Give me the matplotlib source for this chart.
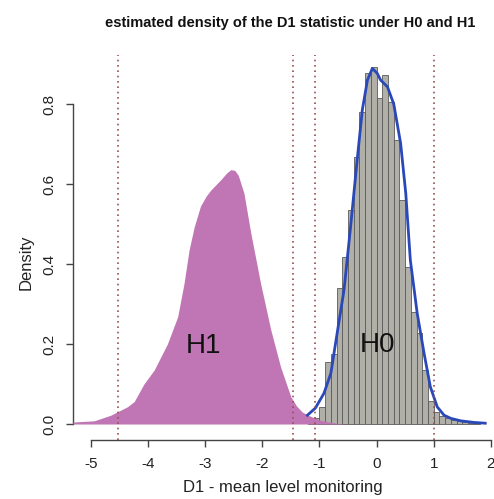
import matplotlib
matplotlib.use("Agg")
import matplotlib.pyplot as plt
import numpy as np

plt.rcParams['font.family'] = ['Liberation Sans', 'DejaVu Sans']
plt.rcParams['axes.unicode_minus'] = False

# estimated density under H1 (filled curve)
h1_x = [-5.31, -4.94, -4.65, -4.36, -4.24, -4.07, -3.89, -3.66, -3.48, -3.37,
        -3.28, -3.19, -3.08, -2.98, -2.90, -2.73, -2.62, -2.55, -2.48, -2.42,
        -2.32, -2.20, -2.03, -1.85, -1.68, -1.50, -1.40, -1.30, -1.20, -1.00,
        -0.80, -0.57]
h1_d = [0.005, 0.008, 0.022, 0.043, 0.056, 0.100, 0.135, 0.200, 0.268, 0.350,
        0.435, 0.493, 0.545, 0.570, 0.585, 0.610, 0.628, 0.636, 0.634, 0.622,
        0.577, 0.477, 0.352, 0.235, 0.143, 0.068, 0.045, 0.030, 0.022, 0.010,
        0.004, 0.0]

# histogram of D1 under H0, bins of width 0.1 starting at -1.2
h0_start = -1.2
h0_width = 0.1
h0_hist = [0.005, 0.014, 0.043, 0.155, 0.175, 0.339, 0.418, 0.535, 0.668, 0.781,
           0.877, 0.893, 0.816, 0.873, 0.806, 0.710, 0.560, 0.393, 0.281, 0.227,
           0.135, 0.058, 0.031, 0.020, 0.014, 0.010, 0.007, 0.005, 0.003, 0.002]

# kernel density estimate under H0
h0_kde_x = [-1.21, -1.07, -0.92, -0.80, -0.69, -0.57, -0.455, -0.34, -0.25, -0.16,
            -0.075, 0.01, 0.07, 0.19, 0.30, 0.42, 0.51, 0.59, 0.71, 0.83,
            0.94, 1.06, 1.18, 1.30, 1.47, 1.70, 1.90]
h0_kde_d = [0.022, 0.040, 0.077, 0.127, 0.227, 0.335, 0.493, 0.660, 0.785, 0.860,
            0.889, 0.877, 0.860, 0.843, 0.800, 0.702, 0.577, 0.410, 0.277, 0.177,
            0.093, 0.043, 0.022, 0.014, 0.008, 0.004, 0.002]

# critical values
crit = [-4.52, -1.47, -1.07, 1.01]

xticks = [-5, -4, -3, -2, -1, 0, 1, 2]
yticks = [0.0, 0.2, 0.4, 0.6, 0.8]

fig = plt.figure(figsize=(4.94, 4.99), dpi=100)
ax = fig.add_axes([0.1478, 0.1182, 0.868, 0.7715])

edges = h0_start + h0_width * np.arange(len(h0_hist))
ax.bar(edges, h0_hist, width=h0_width, align='edge', color='#b0b0a8',
       edgecolor='#5a5a5a', linewidth=0.6, zorder=2)
ax.fill_between(h1_x, h1_d, 0, color='#c075b4', linewidth=0, zorder=3)
ax.plot(h0_kde_x, h0_kde_d, color='#2a48b8', linewidth=2.0, zorder=4)

for c in crit:
    ax.axvline(c, color='#9a5050', linestyle=(0, (1, 2.2)), linewidth=1.2, zorder=5)

ax.text(-3.02, 0.195, "H1", fontsize=20, ha='center', va='center', color='#111111', zorder=6)
ax.text(0.01, 0.198, "H0", fontsize=20, ha='center', va='center', color='#111111', zorder=6)

ax.set_xlim(-5.31, 2.19)
ax.set_ylim(-0.04, 0.9225)

for s in ['top', 'right']:
    ax.spines[s].set_visible(False)
ax.spines['left'].set_bounds(0, 0.8)
ax.spines['bottom'].set_bounds(-5, 2)
for s in ['left', 'bottom']:
    ax.spines[s].set_color('#444444')
    ax.spines[s].set_linewidth(1.0)

ax.set_xticks(xticks)
ax.set_xticklabels([str(t) for t in xticks])
ax.set_yticks(yticks)
ax.set_yticklabels(["%.1f" % t for t in yticks], rotation=90, va='center')
ax.tick_params(direction='out', length=5, width=1.0, color='#444444',
               labelsize=11, pad=7, labelcolor='#222222')

ax.set_xlabel("D1 - mean level monitoring", fontsize=12, color='#222222')
ax.set_ylabel("Density", fontsize=12, color='#222222')
ax.xaxis.set_label_coords(0.49, -0.104)
ax.yaxis.set_label_coords(-0.093, 0.462)

fig.text(0.587, 0.954, "estimated density of the D1 statistic under H0 and H1",
         fontsize=10.5, fontweight='bold', ha='center', va='center', color='#111111')

fig.savefig("out.png", dpi=100)
